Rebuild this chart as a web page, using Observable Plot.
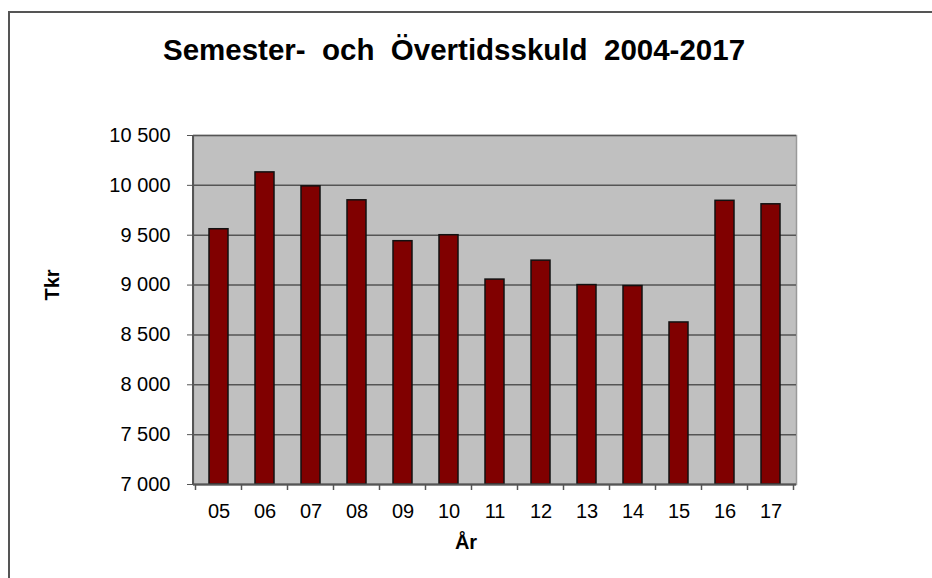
<!DOCTYPE html>
<html>
<head>
<meta charset="utf-8">
<script src="https://cdn.jsdelivr.net/npm/d3@7"></script>
<script src="https://cdn.jsdelivr.net/npm/@observablehq/plot@0.6"></script>
<style>
  html, body { margin: 0; padding: 0; background: #fff; overflow: hidden; }
  #wrap { position: relative; width: 932px; height: 578px; overflow: hidden; font-family: "Liberation Sans", Arial, sans-serif; }
  #border { position: absolute; left: 8px; top: 11px; width: 1000px; height: 1000px; border: 2px solid #555; box-sizing: border-box; }
  #chart { position: absolute; left: 0; top: 0; }
  .title { position: absolute; left: 454px; top: 50px; transform: translate(-50%, -50%); font-weight: bold; font-size: 29.5px; line-height: 1; white-space: pre; color: #000; }
  .ylab { position: absolute; left: 52px; top: 285px; transform: translate(-50%, -50%) rotate(-90deg); font-weight: bold; font-size: 20px; line-height: 1; color: #000; }
  .xlab { position: absolute; left: 466px; top: 542px; transform: translate(-50%, -50%); font-weight: bold; font-size: 20px; line-height: 1; color: #000; }
</style>
</head>
<body>
<div id="wrap">
  <div id="border"></div>
  <div id="chart"></div>
  <div class="title">Semester-  och  Övertidsskuld  2004-2017</div>
  <div class="ylab">Tkr</div>
  <div class="xlab">År</div>
</div>
<script>
const years = ["05","06","07","08","09","10","11","12","13","14","15","16","17"];
const values = [9560, 10130, 9990, 9850, 9440, 9500, 9055, 9245, 9000, 8990, 8625, 9845, 9810];
const yTicks = [7000, 7500, 8000, 8500, 9000, 9500, 10000, 10500];
const baseline = 7000;

const data = years.map((y, i) => ({year: y, value: values[i]}));
const fmt = d => d3.format(",")(d).replace(/,/g, " ");

// left axis line and boundary tick marks between categories (Excel style)
function axisLines(index, scales, values, dimensions) {
  const x = scales.x;
  const g = d3.create("svg:g");
  const bw = x.bandwidth();
  const step = x.step ? x.step() : bw / (1 - x.paddingInner());
  const gap = (step - bw) / 2;
  const yb = dimensions.height - dimensions.marginBottom;
  const yt = dimensions.marginTop;
  const xl = dimensions.marginLeft;
  const xs = years.map(y => x(y) - gap);
  xs.push(x(years[years.length - 1]) + bw + gap);
  g.append("line").attr("x1", xl).attr("x2", xl).attr("y1", yt).attr("y2", yb)
    .attr("stroke", "#555").attr("stroke-width", 2);
  g.selectAll("line.t").data(xs).join("line").attr("class", "t")
    .attr("x1", d => d).attr("x2", d => d)
    .attr("y1", yb).attr("y2", yb + 6)
    .attr("stroke", "#555").attr("stroke-width", 1.5);
  return g.node();
}

const chart = Plot.plot({
  width: 932,
  height: 578,
  marginLeft: 193,
  marginRight: 136,
  marginTop: 135,
  marginBottom: 94,
  style: {fontFamily: "'Liberation Sans', Arial, sans-serif", fontSize: "20px", color: "#000", background: "transparent"},
  x: {domain: years, paddingInner: 0.58, paddingOuter: 0.29, label: null},
  y: {domain: [7000, 10500], label: null},
  marks: [
    Plot.frame({fill: "#c0c0c0", stroke: "#9a9a9a", strokeWidth: 1.5}),
    Plot.gridY(yTicks, {stroke: "#555", strokeOpacity: 1, strokeWidth: 1.5}),
    Plot.barY(data, {x: "year", y1: baseline, y2: "value", fill: "#800000", stroke: "#111", strokeWidth: 1.5}),
    Plot.ruleY([baseline], {stroke: "#555", strokeWidth: 2}),
    Plot.axisY({ticks: yTicks, tickFormat: fmt, tickSize: 6, tickPadding: 17, stroke: "#555", label: null, fontSize: 20}),
    Plot.axisX({tickSize: 0, tickPadding: 19, label: null, fontSize: 20}),
    axisLines
  ]
});
document.getElementById("chart").appendChild(chart);
</script>
</body>
</html>
